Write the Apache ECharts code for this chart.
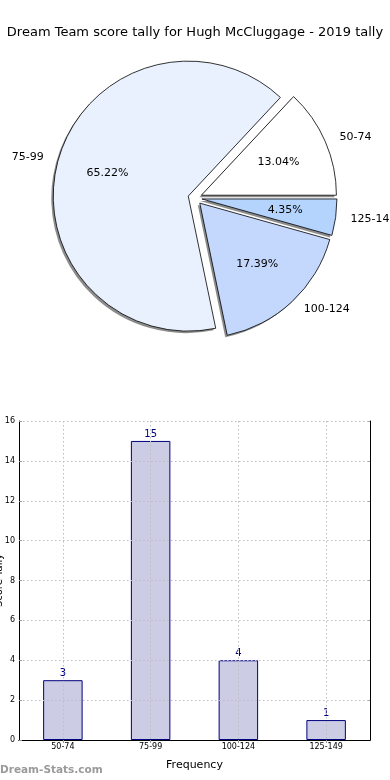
<!DOCTYPE html>
<html>
<head>
<meta charset="utf-8">
<script src="https://cdn.jsdelivr.net/npm/echarts@6/dist/echarts.min.js"></script>
<style>
html,body{margin:0;padding:0;background:#fff;}
#c{width:390px;height:780px;}
</style>
</head>
<body>
<div id="c"></div>
<script>
const titleText = 'Dream Team score tally for Hugh McCluggage - 2019 tally';
const categories = ['50-74', '75-99', '100-124', '125-149'];
const counts = [3, 15, 4, 1];
const pieColors = ['#FFFFFF', '#EAF1FE', '#C4D8FE', '#B4D4FE'];
const yMin = 0, yMax = 16, yInterval = 2;
const xAxisName = 'Frequency';
const yAxisName = 'Score Tally';
const watermark = 'Dream-Stats.com';

const total = counts.reduce((a, b) => a + b, 0);
const FONT = 'DejaVu Sans';
const gridBlank = ['', '', '', '', '', '', '', '', ''];
const PIE_C = [195, 198];
const PIE_R = 135;

const chart = echarts.init(document.getElementById('c'), null, {renderer: 'canvas'});
const sliceStyle = {borderColor: '#000', borderWidth: 0.8};
const shadowStyle = {color: 'rgba(0,0,0,0.45)', borderWidth: 0};

chart.setOption({
  animation: false,
  backgroundColor: '#fff',
  title: {
    text: titleText, left: 'center', top: 21,
    textStyle: {fontFamily: FONT, fontSize: 13, fontWeight: 'normal', color: '#000'}
  },
  graphic: [{
    type: 'text', left: 0, top: 765,
    style: {text: watermark, font: 'bold 10.5px "DejaVu Sans"', fill: '#9a9a9a'}
  }],
  grid: {left: 19, right: 20, top: 421, bottom: 40, containLabel: false, outerBoundsMode: 'none'},
  xAxis: [{
    type: 'category', data: categories, gridIndex: 0, position: 'bottom',
    name: xAxisName, nameLocation: 'middle', nameGap: 20, nameMoveOverlap: false,
    nameTextStyle: {fontFamily: FONT, fontSize: 11, color: '#000'},
    axisLine: {lineStyle: {color: '#000', width: 1}},
    axisTick: {show: true, inside: true, alignWithLabel: true, length: 3, lineStyle: {color: '#999'}},
    axisLabel: {fontFamily: FONT, fontSize: 8, color: '#000', margin: 3},
    splitLine: {show: false}
  }, {
    type: 'category', data: gridBlank, gridIndex: 0, position: 'top', boundaryGap: false, z: 10,
    axisLine: {show: true, lineStyle: {color: '#000', width: 1}},
    axisTick: {show: true, inside: true, length: 3, interval: (i) => i % 2 === 1, lineStyle: {color: '#999'}},
    axisLabel: {show: false},
    splitLine: {show: true, interval: (i) => i % 2 === 1, lineStyle: {color: '#bdbdbd', type: [1.5, 2.5], width: 1}}
  }],
  yAxis: [{
    type: 'value', min: yMin, max: yMax, interval: yInterval, gridIndex: 0, position: 'left', z: 10,
    name: yAxisName, nameLocation: 'middle', nameGap: 15, nameRotate: 90, nameMoveOverlap: false,
    nameTextStyle: {fontFamily: FONT, fontSize: 10, color: '#000'},
    axisLine: {show: true, lineStyle: {color: '#000', width: 1}},
    axisTick: {show: true, inside: true, length: 3, lineStyle: {color: '#999'}},
    axisLabel: {fontFamily: FONT, fontSize: 8, color: '#000', margin: 4},
    splitLine: {show: true, lineStyle: {color: '#bdbdbd', type: [1.5, 2.5], width: 1}}
  }, {
    type: 'value', min: yMin, max: yMax, interval: yInterval, gridIndex: 0, position: 'right',
    axisLine: {show: true, lineStyle: {color: '#000', width: 1}},
    axisTick: {show: true, inside: true, length: 3, lineStyle: {color: '#999'}},
    axisLabel: {show: false},
    splitLine: {show: false}
  }],
  series: [{
    // drop shadow of the exploded pie
    type: 'pie', center: [PIE_C[0] - 2, PIE_C[1] + 2], radius: PIE_R, startAngle: 0, clockwise: false,
    selectedMode: 'multiple', selectedOffset: 7, avoidLabelOverlap: false, silent: true, z: 1,
    data: categories.map((c, i) => ({name: c, value: counts[i], selected: true})),
    itemStyle: shadowStyle,
    select: {itemStyle: shadowStyle},
    emphasis: {disabled: true, scale: false},
    label: {show: false}, labelLine: {show: false}
  }, {
    type: 'pie', center: PIE_C, radius: PIE_R, startAngle: 0, clockwise: false,
    selectedMode: 'multiple', selectedOffset: 7, avoidLabelOverlap: false, z: 2,
    data: categories.map((c, i) => ({name: c, value: counts[i], selected: true, itemStyle: {color: pieColors[i]}})),
    itemStyle: sliceStyle,
    select: {itemStyle: sliceStyle},
    emphasis: {disabled: true, scale: false},
    label: {show: true, position: 'outside', formatter: '{b}', fontFamily: FONT, fontSize: 11, color: '#000', overflow: 'none'},
    labelLine: {show: false, length: 10, length2: 0}
  }, {
    type: 'pie', center: PIE_C, radius: [27, PIE_R], startAngle: 0, clockwise: false,
    selectedMode: 'multiple', selectedOffset: 7, avoidLabelOverlap: false, silent: true, z: 3,
    data: categories.map((c, i) => ({name: c, value: counts[i], selected: true})),
    itemStyle: {color: 'rgba(0,0,0,0)', borderWidth: 0},
    select: {itemStyle: {color: 'rgba(0,0,0,0)', borderWidth: 0}},
    emphasis: {disabled: true, scale: false},
    label: {show: true, position: 'inside', fontFamily: FONT, fontSize: 11, color: '#000',
      formatter: (p) => (p.value / total * 100).toFixed(2) + '%'},
    labelLine: {show: false}
  }, {
    type: 'bar', xAxisIndex: 0, yAxisIndex: 0, data: counts, barWidth: '45%', z: 2,
    itemStyle: {color: '#CCCCE5', borderColor: '#000080', borderWidth: 1},
    label: {show: true, position: 'top', distance: 2, fontFamily: FONT, fontSize: 10, color: '#000080'},
    emphasis: {disabled: true}
  }]
});
</script>
</body>
</html>
